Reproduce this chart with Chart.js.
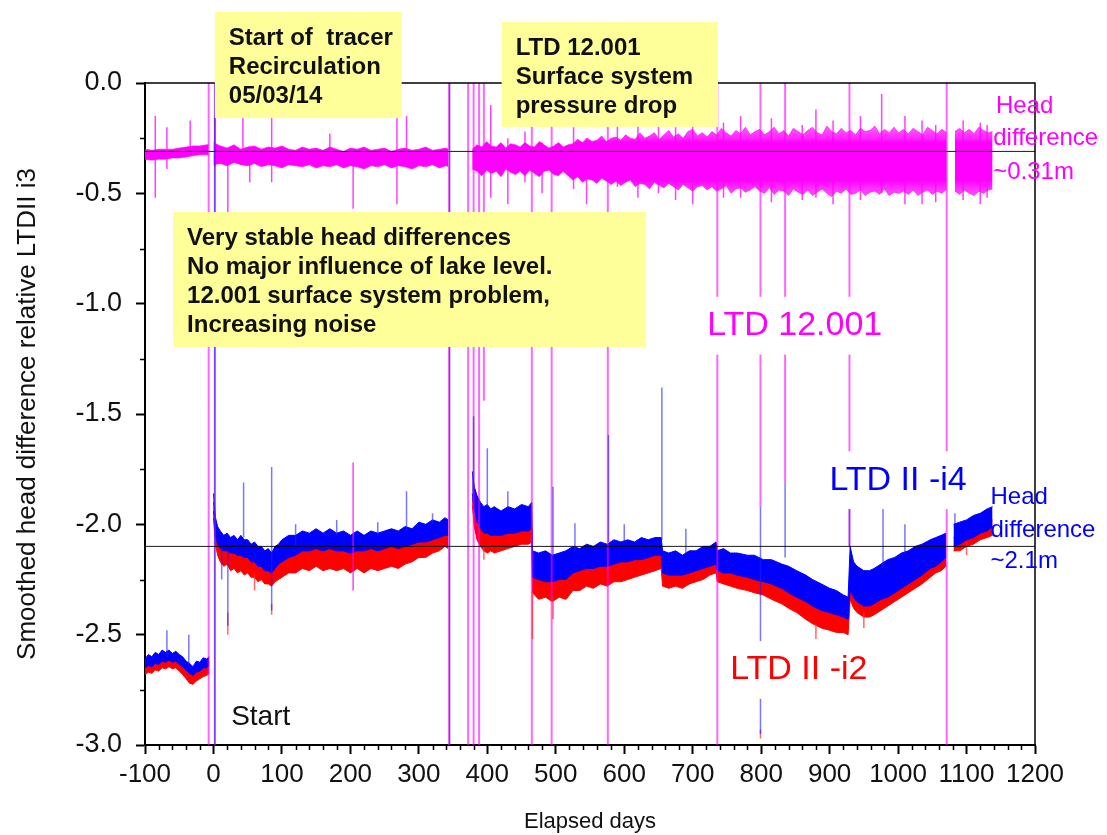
<!DOCTYPE html>
<html>
<head>
<meta charset="utf-8">
<title>Head difference LTD II</title>
<script src="https://cdn.jsdelivr.net/npm/chart.js@4.4.1/dist/chart.umd.min.js"></script>
<style>
    html, body { margin: 0; padding: 0; background: #fff; }
    canvas { display: block; }
</style>
</head>
<body>
<canvas id="headChart" width="1107" height="835"></canvas>
<script>
(function () {
    "use strict";

    // Elapsed days sampled for LTD II -i2 / -i4 (null rows mark logger gaps)
    const ltdDays = [
        -100, -95, -90, -85, -80, -75, -70, -65, -60, -55, -50, -45, -40, -35, -30, -25, -20, -15, -10, -6,
        -3,
        0, 3, 6, 10, 15, 20, 25, 30, 35, 40, 45, 50, 55, 60, 65, 70, 75, 80, 85, 90, 95, 100,
        110, 120, 130, 140, 150, 160, 170, 180, 190, 200, 210, 220, 230, 240, 250, 260, 270, 280, 290,
        300, 310, 320, 330, 338, 343,
        360,
        378, 381, 385, 390, 395, 400, 405, 410, 420, 430, 440, 450, 460, 465,
        466, 475, 485, 495, 505, 515, 525, 535, 545, 555, 565, 575, 585, 595, 605, 615, 625, 635, 645, 654,
        656, 665, 675, 685, 695, 705, 715, 725, 734,
        736, 745, 755, 765, 780, 790, 803, 815, 830, 840, 852, 865, 875, 888, 900, 910, 920, 927,
        930, 935, 940, 950, 958, 965, 975, 985, 995, 1005, 1015, 1025, 1035, 1047, 1055, 1063, 1070,
        1076,
        1081, 1090, 1100, 1110, 1120, 1130, 1138
    ];
    // LTD II -i4, upper and lower edge of the smoothed band
    const i4Hi = [
        -2.61, -2.59, -2.60, -2.58, -2.59, -2.57, -2.58, -2.57, -2.585, -2.575, -2.59, -2.60, -2.62, -2.63, -2.645, -2.62, -2.625, -2.605, -2.61, -2.60,
        null,
        -1.86, -1.97, -2.01, -2.03, -2.05, -2.04, -2.06, -2.05, -2.07, -2.05, -2.07, -2.07, -2.09, -2.08, -2.10, -2.10, -2.12, -2.11, -2.13, -2.10, -2.09, -2.07,
        -2.05, -2.05, -2.03, -2.04, -2.02, -2.04, -2.02, -2.04, -2.03, -2.05, -2.03, -2.05, -2.03, -2.04, -2.03, -2.02, -2.03, -2.01, -2.02,
        -1.99, -2.00, -1.98, -1.99, -1.97, -1.98,
        null,
        -1.76, -1.83, -1.87, -1.90, -1.92, -1.91, -1.93, -1.92, -1.94, -1.92, -1.93, -1.91, -1.92, -1.90,
        -2.12, -2.13, -2.12, -2.14, -2.13, -2.12, -2.10, -2.11, -2.09, -2.10, -2.08, -2.09, -2.07, -2.08, -2.07, -2.08, -2.06, -2.07, -2.06, -2.06,
        -2.12, -2.13, -2.12, -2.14, -2.12, -2.12, -2.10, -2.10, -2.08,
        -2.12, -2.11, -2.13, -2.13, -2.14, -2.14, -2.16, -2.16, -2.18, -2.19, -2.21, -2.23, -2.25, -2.27, -2.29, -2.30, -2.32, -2.33,
        -2.10, -2.17, -2.19, -2.21, -2.21, -2.20, -2.18, -2.16, -2.15, -2.13, -2.12, -2.10, -2.09, -2.07, -2.06, -2.05, -2.04,
        null,
        -2.00, -1.99, -1.98, -1.96, -1.95, -1.93, -1.92
    ];
    const i4Lo = [
        -2.65, -2.64, -2.645, -2.63, -2.635, -2.62, -2.625, -2.615, -2.625, -2.62, -2.635, -2.645, -2.66, -2.675, -2.685, -2.67, -2.665, -2.65, -2.65, -2.64,
        null,
        -1.94, -2.05, -2.09, -2.11, -2.12, -2.12, -2.13, -2.13, -2.14, -2.14, -2.15, -2.15, -2.17, -2.17, -2.19, -2.19, -2.21, -2.21, -2.22, -2.20, -2.18, -2.17,
        -2.15, -2.14, -2.12, -2.12, -2.11, -2.12, -2.11, -2.12, -2.12, -2.13, -2.12, -2.12, -2.11, -2.12, -2.11, -2.10, -2.11, -2.10, -2.09,
        -2.08, -2.08, -2.07, -2.06, -2.05, -2.05,
        null,
        -1.86, -1.94, -1.99, -2.02, -2.04, -2.04, -2.05, -2.05, -2.05, -2.04, -2.04, -2.03, -2.03, -2.02,
        -2.24, -2.25, -2.26, -2.26, -2.25, -2.25, -2.22, -2.21, -2.20, -2.20, -2.19, -2.19, -2.18, -2.17, -2.17, -2.16, -2.16, -2.15, -2.14, -2.14,
        -2.22, -2.23, -2.23, -2.23, -2.22, -2.21, -2.20, -2.19, -2.18,
        -2.21, -2.22, -2.22, -2.23, -2.24, -2.25, -2.26, -2.27, -2.29, -2.31, -2.33, -2.35, -2.37, -2.39, -2.40, -2.41, -2.42, -2.43,
        -2.30, -2.33, -2.35, -2.37, -2.37, -2.36, -2.34, -2.33, -2.31, -2.29, -2.27, -2.25, -2.23, -2.20, -2.19, -2.17, -2.15,
        null,
        -2.10, -2.09, -2.07, -2.06, -2.04, -2.03, -2.01
    ];
    // LTD II -i2, upper and lower edge of the smoothed band
    const i2Hi = [
        -2.63, -2.62, -2.625, -2.61, -2.615, -2.60, -2.61, -2.60, -2.61, -2.605, -2.62, -2.63, -2.65, -2.66, -2.67, -2.655, -2.65, -2.635, -2.635, -2.625,
        null,
        -1.90, -2.01, -2.05, -2.07, -2.08, -2.08, -2.09, -2.09, -2.10, -2.10, -2.11, -2.11, -2.13, -2.13, -2.15, -2.15, -2.17, -2.17, -2.18, -2.16, -2.14, -2.13,
        -2.11, -2.10, -2.08, -2.08, -2.07, -2.08, -2.07, -2.08, -2.08, -2.09, -2.08, -2.08, -2.07, -2.08, -2.07, -2.06, -2.07, -2.06, -2.05,
        -2.04, -2.04, -2.03, -2.02, -2.01, -2.01,
        null,
        -1.88, -1.96, -2.00, -2.02, -2.03, -2.03, -2.04, -2.04, -2.04, -2.03, -2.03, -2.02, -2.02, -2.01,
        -2.20, -2.21, -2.22, -2.22, -2.21, -2.21, -2.18, -2.17, -2.16, -2.16, -2.15, -2.15, -2.14, -2.13, -2.13, -2.12, -2.12, -2.11, -2.10, -2.10,
        -2.18, -2.19, -2.19, -2.19, -2.18, -2.17, -2.16, -2.15, -2.14,
        -2.17, -2.18, -2.18, -2.19, -2.20, -2.21, -2.22, -2.23, -2.25, -2.27, -2.29, -2.31, -2.33, -2.35, -2.36, -2.37, -2.38, -2.39,
        -2.26, -2.29, -2.31, -2.33, -2.33, -2.32, -2.30, -2.29, -2.27, -2.25, -2.23, -2.21, -2.19, -2.16, -2.15, -2.13, -2.11,
        null,
        -2.06, -2.05, -2.04, -2.02, -2.01, -1.99, -1.98
    ];
    const i2Lo = [
        -2.68, -2.67, -2.675, -2.66, -2.665, -2.65, -2.655, -2.645, -2.655, -2.65, -2.665, -2.68, -2.70, -2.72, -2.725, -2.71, -2.70, -2.69, -2.685, -2.675,
        null,
        -1.97, -2.09, -2.14, -2.17, -2.19, -2.18, -2.21, -2.20, -2.22, -2.21, -2.23, -2.22, -2.24, -2.24, -2.26, -2.25, -2.27, -2.27, -2.28, -2.26, -2.25, -2.24,
        -2.22, -2.22, -2.20, -2.21, -2.19, -2.21, -2.20, -2.21, -2.20, -2.22, -2.20, -2.22, -2.20, -2.21, -2.20, -2.19, -2.20, -2.18, -2.17,
        -2.15, -2.15, -2.13, -2.12, -2.10, -2.11,
        null,
        -1.91, -2.01, -2.07, -2.10, -2.12, -2.13, -2.12, -2.13, -2.12, -2.11, -2.10, -2.09, -2.09, -2.08,
        -2.31, -2.34, -2.33, -2.35, -2.33, -2.34, -2.30, -2.30, -2.28, -2.29, -2.27, -2.28, -2.26, -2.26, -2.25, -2.24, -2.23, -2.22, -2.21, -2.20,
        -2.28, -2.29, -2.28, -2.29, -2.27, -2.26, -2.25, -2.23, -2.22,
        -2.26, -2.27, -2.28, -2.29, -2.30, -2.31, -2.32, -2.34, -2.36, -2.38, -2.40, -2.43, -2.45, -2.47, -2.48, -2.49, -2.49, -2.50,
        -2.34, -2.38, -2.40, -2.42, -2.42, -2.41, -2.39, -2.37, -2.35, -2.33, -2.31, -2.29, -2.27, -2.24, -2.22, -2.21, -2.19,
        null,
        -2.12, -2.12, -2.10, -2.09, -2.07, -2.06, -2.05
    ];

    // LTD 12.001 band (noise peaks included in the edges)
    const m12Days = [
        -100, -90, -80, -70, -60, -50, -40, -30, -20, -10, -7,
        -3,
        0, 10, 20, 30, 40, 50, 60, 70, 80, 90, 100, 110, 120, 130, 140, 150, 160, 170,
        180, 190, 200, 210, 220, 230, 240, 250, 260, 270, 280, 290, 300, 310, 320, 330, 340, 343,
        360,
        378, 385, 392, 399, 406, 413, 420, 427, 434, 441,
        448, 455, 462, 469, 476, 483, 490, 497, 504, 511,
        518, 525, 532, 539, 546, 553, 560, 567, 574, 581,
        588, 595, 602, 609, 616, 623, 630, 637, 644, 651,
        658, 665, 672, 679, 686, 693, 700, 707, 714, 721,
        728, 735, 742, 749, 756, 763, 770, 777, 784, 791,
        798, 805, 812, 819, 826, 833, 840, 847, 854, 861,
        868, 875, 882, 889, 896, 903, 910, 917, 924, 931,
        938, 945, 952, 959, 966, 973, 980, 987, 994, 1001,
        1008, 1015, 1022, 1029, 1036, 1043, 1050, 1057, 1064, 1071,
        1077,
        1083, 1090, 1097, 1104, 1111, 1118, 1125, 1132, 1138
    ];
    const m12Hi = [
        -0.30, -0.305, -0.30, -0.30, -0.30, -0.295, -0.29, -0.285, -0.285, -0.28, -0.28,
        null,
        -0.27, -0.285, -0.295, -0.28, -0.30, -0.29, -0.285, -0.30, -0.29, -0.295, -0.285, -0.30, -0.305, -0.29, -0.30, -0.295, -0.305, -0.29,
        -0.30, -0.31, -0.295, -0.30, -0.29, -0.305, -0.30, -0.295, -0.31, -0.30, -0.295, -0.305, -0.30, -0.29, -0.305, -0.30, -0.295, -0.30,
        null,
        -0.30, -0.28, -0.29, -0.265, -0.285, -0.29, -0.27, -0.295, -0.275, -0.28,
        -0.29, -0.27, -0.285, -0.29, -0.265, -0.28, -0.295, -0.285, -0.27, -0.29,
        -0.28, -0.275, -0.255, -0.27, -0.25, -0.265, -0.26, -0.24, -0.265, -0.25,
        -0.245, -0.26, -0.235, -0.25, -0.255, -0.225, -0.25, -0.24, -0.225, -0.255,
        -0.235, -0.215, -0.245, -0.23, -0.25, -0.22, -0.21, -0.24, -0.225, -0.245,
        -0.22, -0.235, -0.205, -0.225, -0.24, -0.215, -0.23, -0.20, -0.235, -0.22,
        -0.21, -0.235, -0.22, -0.20, -0.23, -0.215, -0.24, -0.205, -0.22, -0.235,
        -0.215, -0.20, -0.225, -0.235, -0.195, -0.22, -0.23, -0.205, -0.225, -0.215,
        -0.235, -0.205, -0.22, -0.215, -0.195, -0.23, -0.21, -0.225, -0.20, -0.225,
        -0.21, -0.23, -0.205, -0.22, -0.235, -0.20, -0.215, -0.23, -0.21, -0.225,
        null,
        -0.22, -0.205, -0.225, -0.21, -0.23, -0.20, -0.215, -0.225, -0.22
    ];
    const m12Lo = [
        -0.345, -0.35, -0.345, -0.345, -0.34, -0.34, -0.335, -0.33, -0.325, -0.325, -0.325,
        null,
        -0.37, -0.365, -0.375, -0.36, -0.37, -0.375, -0.365, -0.38, -0.37, -0.375, -0.385, -0.37, -0.375, -0.38, -0.37, -0.385, -0.375, -0.38,
        -0.37, -0.385, -0.375, -0.38, -0.39, -0.375, -0.38, -0.37, -0.385, -0.375, -0.38, -0.39, -0.375, -0.38, -0.37, -0.385, -0.375, -0.38,
        null,
        -0.39, -0.40, -0.42, -0.395, -0.41, -0.40, -0.425, -0.39, -0.405, -0.415,
        -0.40, -0.42, -0.395, -0.41, -0.425, -0.40, -0.395, -0.415, -0.42, -0.40,
        -0.42, -0.44, -0.425, -0.45, -0.435, -0.44, -0.455, -0.43, -0.445, -0.46,
        -0.445, -0.465, -0.45, -0.44, -0.47, -0.455, -0.46, -0.48, -0.45, -0.465,
        -0.475, -0.455, -0.47, -0.485, -0.46, -0.475, -0.49, -0.47, -0.465, -0.485,
        -0.47, -0.49, -0.48, -0.465, -0.50, -0.48, -0.475, -0.495, -0.485, -0.47,
        -0.49, -0.50, -0.475, -0.505, -0.485, -0.49, -0.51, -0.48, -0.495, -0.505,
        -0.485, -0.51, -0.495, -0.48, -0.50, -0.515, -0.49, -0.50, -0.48, -0.505,
        -0.50, -0.485, -0.51, -0.495, -0.49, -0.505, -0.48, -0.51, -0.495, -0.50,
        -0.49, -0.505, -0.485, -0.51, -0.495, -0.485, -0.505, -0.49, -0.50, -0.48,
        null,
        -0.49, -0.505, -0.485, -0.50, -0.51, -0.49, -0.50, -0.485, -0.48
    ];

    // single-reading spikes: day, top, bottom
    const m12SpikeDays = [-85, -68, -34, 2, 21, 43, 53, 85, 170, 204, 268, 282, 405, 430, 455, 480, 526, 545, 590, 620, 650, 675, 700,
        745, 770, 815, 860, 880, 905, 945, 976, 1010, 1035, 1055, 1095, 1120, 1130, 204];
    const m12SpikeTop = [-0.15, -0.20, -0.17, -0.15, -0.30, -0.15, -0.33, -0.15, -0.23, -0.33, -0.15, -0.15, -0.10, -0.25, -0.22, -0.27, -0.20, -0.25, -0.19, -0.17, -0.17, -0.20, -0.16,
        -0.18, -0.15, -0.16, -0.19, -0.12, -0.17, -0.15, -0.05, -0.15, -0.17, -0.19, -0.17, -0.18, -0.19, -1.72];
    const m12SpikeBottom = [-0.52, -0.39, -0.33, -0.38, -0.60, -0.30, -0.45, -0.45, -0.33, -0.57, -0.55, -0.30, -0.52, -0.55, -0.45, -0.50, -0.48, -0.55, -0.47, -0.52, -0.50, -0.53, -0.55,
        -0.52, -0.52, -0.54, -0.53, -0.52, -0.55, -0.53, -0.50, -0.55, -0.55, -0.54, -0.53, -0.55, -0.52, -2.30];
    // LTD 12.001 dropouts
    const m12DropDays = [-7, 2, 344, 372, 380, 388, 465, 494, 576, 736, 1071, 395, 799, 835, 929];
    const m12DropTop = [0, 0, 0, 0, 0, 0, 0, 0, 0, 0, 0, 0, 0, 0, 0];
    const m12DropBottom = [-3, -3, -3, -3, -3, -3, -3, -3, -3, -3, -3, -1.44, -1.92, -1.81, -2.10];

    const i4SpikeDays = [-68, -36, 12, 21, 44, 85, 120, 180, 240, 282, 320, 380, 400, 430, 496, 528, 577, 600, 655, 690, 799, 835, 929, 978, 1010, 1083, 2, 345];
    const i4SpikeTop = [-2.48, -2.50, -2.10, -2.12, -1.81, -1.74, -2.00, -1.98, -1.99, -1.85, -1.95, -1.51, -1.655, -1.85, -1.83, -1.995, -1.595, -2.00, -1.38, -2.02, -1.92, -1.81, -1.92, -1.92, -2.00, -1.95, 0, 0];
    const i4SpikeBottom = [-2.60, -2.64, -2.25, -2.46, -2.06, -2.39, -2.10, -2.05, -2.05, -2.03, -2.00, -1.85, -1.92, -1.93, -2.15, -2.12, -2.08, -2.08, -2.07, -2.13, -2.95, -2.15, -2.10, -2.20, -2.13, -2.00, -3, -3];

    const i2SpikeDays = [21, 60, 85, 395, 466, 496, 799, 880, 950, 1100];
    const i2SpikeTop = [-2.40, -2.22, -2.36, -2.10, -2.30, -2.33, -2.93, -2.45, -2.40, -2.08];
    const i2SpikeBottom = [-2.50, -2.30, -2.41, -2.16, -2.52, -2.43, -2.97, -2.52, -2.47, -2.14];

    // mean head differences
    const refLevels = [-0.31, -2.1];

    const xTicks = { min: -100, max: 1200, step: 100 };
    const yTicks = { min: -3, max: 0, step: 0.5 };

    const FONT = "'Liberation Sans', Arial, Helvetica, sans-serif";
    const MAGENTA = '#ff00ff';
    const BLUE = '#0000ff';
    const RED = '#ff0000';

    function series(days, values) {
        return days.map(function (d, i) {
            return { x: d, y: values[i] };
        });
    }

    function strokes(days, tops, bottoms) {
        const pts = [];
        days.forEach(function (d, i) {
            pts.push({ x: d, y: tops[i] }, { x: d, y: bottoms[i] }, { x: d, y: null });
        });
        return pts;
    }

    function levels(values) {
        const pts = [];
        values.forEach(function (v) {
            pts.push({ x: xTicks.min, y: v }, { x: xTicks.max, y: v }, { x: xTicks.max, y: null });
        });
        return pts;
    }

    // noisy fringe of the 12.001 band is lighter than its dense core
    function noiseFill(context) {
        const chart = context.chart;
        const ys = chart.scales.y;
        if (!chart.chartArea || !ys) {
            return MAGENTA;
        }
        const top = ys.getPixelForValue(-0.19);
        const bottom = ys.getPixelForValue(-0.53);
        const span = bottom - top;
        const stop = function (v) {
            return (ys.getPixelForValue(v) - top) / span;
        };
        const g = chart.ctx.createLinearGradient(0, top, 0, bottom);
        g.addColorStop(0, 'rgba(255, 0, 255, 0.6)');
        g.addColorStop(stop(-0.25), 'rgba(255, 0, 255, 0.85)');
        g.addColorStop(stop(-0.27), 'rgba(255, 0, 255, 1)');
        g.addColorStop(stop(-0.44), 'rgba(255, 0, 255, 1)');
        g.addColorStop(stop(-0.47), 'rgba(255, 0, 255, 0.85)');
        g.addColorStop(1, 'rgba(255, 0, 255, 0.6)');
        return g;
    }

    function edge(label, data, color, fillColor, width, fill, order) {
        return {
            label: label,
            data: data,
            borderColor: color,
            backgroundColor: fillColor,
            borderWidth: width,
            pointRadius: 0,
            fill: fill,
            spanGaps: false,
            tension: 0,
            order: order
        };
    }

    function lines(label, data, color, width, order) {
        return {
            label: label,
            data: data,
            borderColor: color,
            borderWidth: width,
            pointRadius: 0,
            fill: false,
            spanGaps: false,
            tension: 0,
            order: order
        };
    }

    // text boxes and labels, anchored in data units
    const noteBoxes = [
        { from: [2, 0.322], to: [275, -0.159], lines: ['Start of  tracer', 'Recirculation', '05/03/14'] },
        { from: [421, 0.276], to: [737, -0.199], lines: ['LTD 12.001', 'Surface system', 'pressure drop'] },
        { from: [-59, -0.585], to: [632, -1.196], lines: ['Very stable head differences', 'No major influence of lake level.', '12.001 surface system problem,', 'Increasing noise'] }
    ];
    const tags = [
        { at: [849, -1.10], text: 'LTD 12.001', color: MAGENTA, size: 34, align: 'center', knockout: true },
        { at: [1000, -1.80], text: 'LTD II -i4', color: BLUE, size: 34, align: 'center', knockout: true },
        { at: [855, -2.66], text: 'LTD II -i2', color: RED, size: 34, align: 'center', knockout: true },
        { at: [69, -2.873], text: 'Start', color: '#111', size: 28, align: 'center' },
        { at: [1143, -0.104], text: 'Head', color: MAGENTA, size: 24, align: 'left' },
        { at: [1139, -0.249], text: 'difference', color: MAGENTA, size: 24, align: 'left' },
        { at: [1139, -0.403], text: '~0.31m', color: MAGENTA, size: 24, align: 'left' },
        { at: [1135, -1.876], text: 'Head', color: BLUE, size: 24, align: 'left' },
        { at: [1135, -2.026], text: 'difference', color: BLUE, size: 24, align: 'left' },
        { at: [1135, -2.166], text: '~2.1m', color: BLUE, size: 24, align: 'left' }
    ];

    const frameAndNotes = {
        id: 'frameAndNotes',
        afterDraw: function (chart) {
            const ctx = chart.ctx;
            const area = chart.chartArea;
            const xs = chart.scales.x;
            const ys = chart.scales.y;
            ctx.save();

            // top and right side of the frame
            ctx.strokeStyle = '#000';
            ctx.lineWidth = 1.5;
            ctx.beginPath();
            ctx.moveTo(area.left, area.top);
            ctx.lineTo(area.right, area.top);
            ctx.lineTo(area.right, area.bottom);
            ctx.stroke();

            // minor ticks
            ctx.beginPath();
            for (let d = xTicks.min; d <= xTicks.max; d += 20) {
                if (d % xTicks.step === 0) continue;
                const px = Math.round(xs.getPixelForValue(d)) + 0.5;
                ctx.moveTo(px, area.bottom);
                ctx.lineTo(px, area.bottom + 5);
            }
            for (let v = yTicks.min; v <= yTicks.max; v += 0.25) {
                if (Math.abs(v / yTicks.step - Math.round(v / yTicks.step)) < 1e-6) continue;
                const py = Math.round(ys.getPixelForValue(v)) + 0.5;
                ctx.moveTo(area.left, py);
                ctx.lineTo(area.left - 5, py);
            }
            ctx.stroke();

            // yellow comment boxes
            noteBoxes.forEach(function (box) {
                const x0 = xs.getPixelForValue(box.from[0]);
                const y0 = ys.getPixelForValue(box.from[1]);
                const x1 = xs.getPixelForValue(box.to[0]);
                const y1 = ys.getPixelForValue(box.to[1]);
                ctx.fillStyle = '#ffff99';
                ctx.fillRect(x0, y0, x1 - x0, y1 - y0);
                ctx.fillStyle = '#111';
                ctx.font = 'bold 24px ' + FONT;
                ctx.textAlign = 'left';
                ctx.textBaseline = 'middle';
                box.lines.forEach(function (line, i) {
                    ctx.fillText(line, x0 + 14, y0 + 26 + i * 29);
                });
            });

            // series labels
            tags.forEach(function (tag) {
                const px = xs.getPixelForValue(tag.at[0]);
                const py = ys.getPixelForValue(tag.at[1]);
                ctx.font = tag.size + 'px ' + FONT;
                ctx.textAlign = tag.align;
                ctx.textBaseline = 'middle';
                if (tag.knockout) {
                    const w = ctx.measureText(tag.text).width + 16;
                    const h = tag.size * 1.7;
                    const left = tag.align === 'center' ? px - w / 2 : px - 8;
                    ctx.fillStyle = '#fff';
                    ctx.fillRect(left, py - h / 2, w, h);
                }
                ctx.fillStyle = tag.color;
                ctx.fillText(tag.text, px, py);
            });

            ctx.restore();
        }
    };

    const context = document.getElementById('headChart').getContext('2d');
    const chart = new Chart(context, {
        type: 'line',
        data: {
            datasets: [
                lines('Mean head difference', levels(refLevels), 'rgba(0, 0, 0, 0.9)', 1, 0),
                lines('LTD II -i4 spikes', strokes(i4SpikeDays, i4SpikeTop, i4SpikeBottom), 'rgba(30, 30, 255, 0.6)', 1.5, 1),
                lines('LTD II -i2 spikes', strokes(i2SpikeDays, i2SpikeTop, i2SpikeBottom), 'rgba(255, 40, 40, 0.7)', 1.5, 2),
                lines('LTD 12.001 dropouts', strokes(m12DropDays, m12DropTop, m12DropBottom), 'rgba(255, 0, 255, 0.6)', 2, 3),
                lines('LTD 12.001 spikes', strokes(m12SpikeDays, m12SpikeTop, m12SpikeBottom), 'rgba(255, 0, 255, 0.75)', 1.5, 4),
                edge('LTD II -i4', series(ltdDays, i4Hi), BLUE, BLUE, 1, '+1', 5),
                edge('LTD II -i4 low', series(ltdDays, i4Lo), BLUE, BLUE, 1, false, 6),
                edge('LTD II -i2', series(ltdDays, i2Hi), RED, RED, 1, '+1', 7),
                edge('LTD II -i2 low', series(ltdDays, i2Lo), RED, RED, 1, false, 8),
                edge('LTD 12.001', series(m12Days, m12Hi), 'rgba(255, 0, 255, 0.6)', noiseFill, 1, '+1', 9),
                edge('LTD 12.001 low', series(m12Days, m12Lo), 'rgba(255, 0, 255, 0.6)', MAGENTA, 1, false, 10)
            ]
        },
        options: {
            responsive: false,
            animation: false,
            devicePixelRatio: 1,
            events: [],
            layout: {
                padding: { left: 0, right: 72, top: 83, bottom: 0 }
            },
            scales: {
                x: {
                    type: 'linear',
                    min: xTicks.min,
                    max: xTicks.max,
                    ticks: {
                        stepSize: xTicks.step,
                        autoSkip: false,
                        maxRotation: 0,
                        padding: 5,
                        color: '#111',
                        font: { family: FONT, size: 26 },
                        callback: function (value) {
                            return String(value);
                        }
                    },
                    grid: {
                        drawOnChartArea: false,
                        tickLength: 9,
                        tickWidth: 2,
                        tickColor: '#000'
                    },
                    border: { color: '#000', width: 2 },
                    title: {
                        display: true,
                        text: 'Elapsed days',
                        color: '#111',
                        font: { family: FONT, size: 22 },
                        padding: { top: 0, bottom: 0 }
                    },
                    afterFit: function (scale) {
                        scale.height = 90;
                    }
                },
                y: {
                    type: 'linear',
                    min: yTicks.min,
                    max: yTicks.max,
                    ticks: {
                        stepSize: yTicks.step,
                        padding: 14,
                        color: '#111',
                        font: { family: FONT, size: 27 },
                        callback: function (value) {
                            return value.toFixed(1);
                        }
                    },
                    grid: {
                        drawOnChartArea: false,
                        tickLength: 9,
                        tickWidth: 2,
                        tickColor: '#000'
                    },
                    border: { color: '#000', width: 2 },
                    title: {
                        display: true,
                        text: 'Smoothed head difference relative LTDII i3',
                        color: '#111',
                        font: { family: FONT, size: 26 },
                        padding: { top: 12, bottom: 0 }
                    },
                    afterFit: function (scale) {
                        scale.width = 145;
                    }
                }
            },
            plugins: {
                legend: { display: false },
                tooltip: { enabled: false }
            }
        },
        plugins: [frameAndNotes]
    });
}());
</script>
</body>
</html>
